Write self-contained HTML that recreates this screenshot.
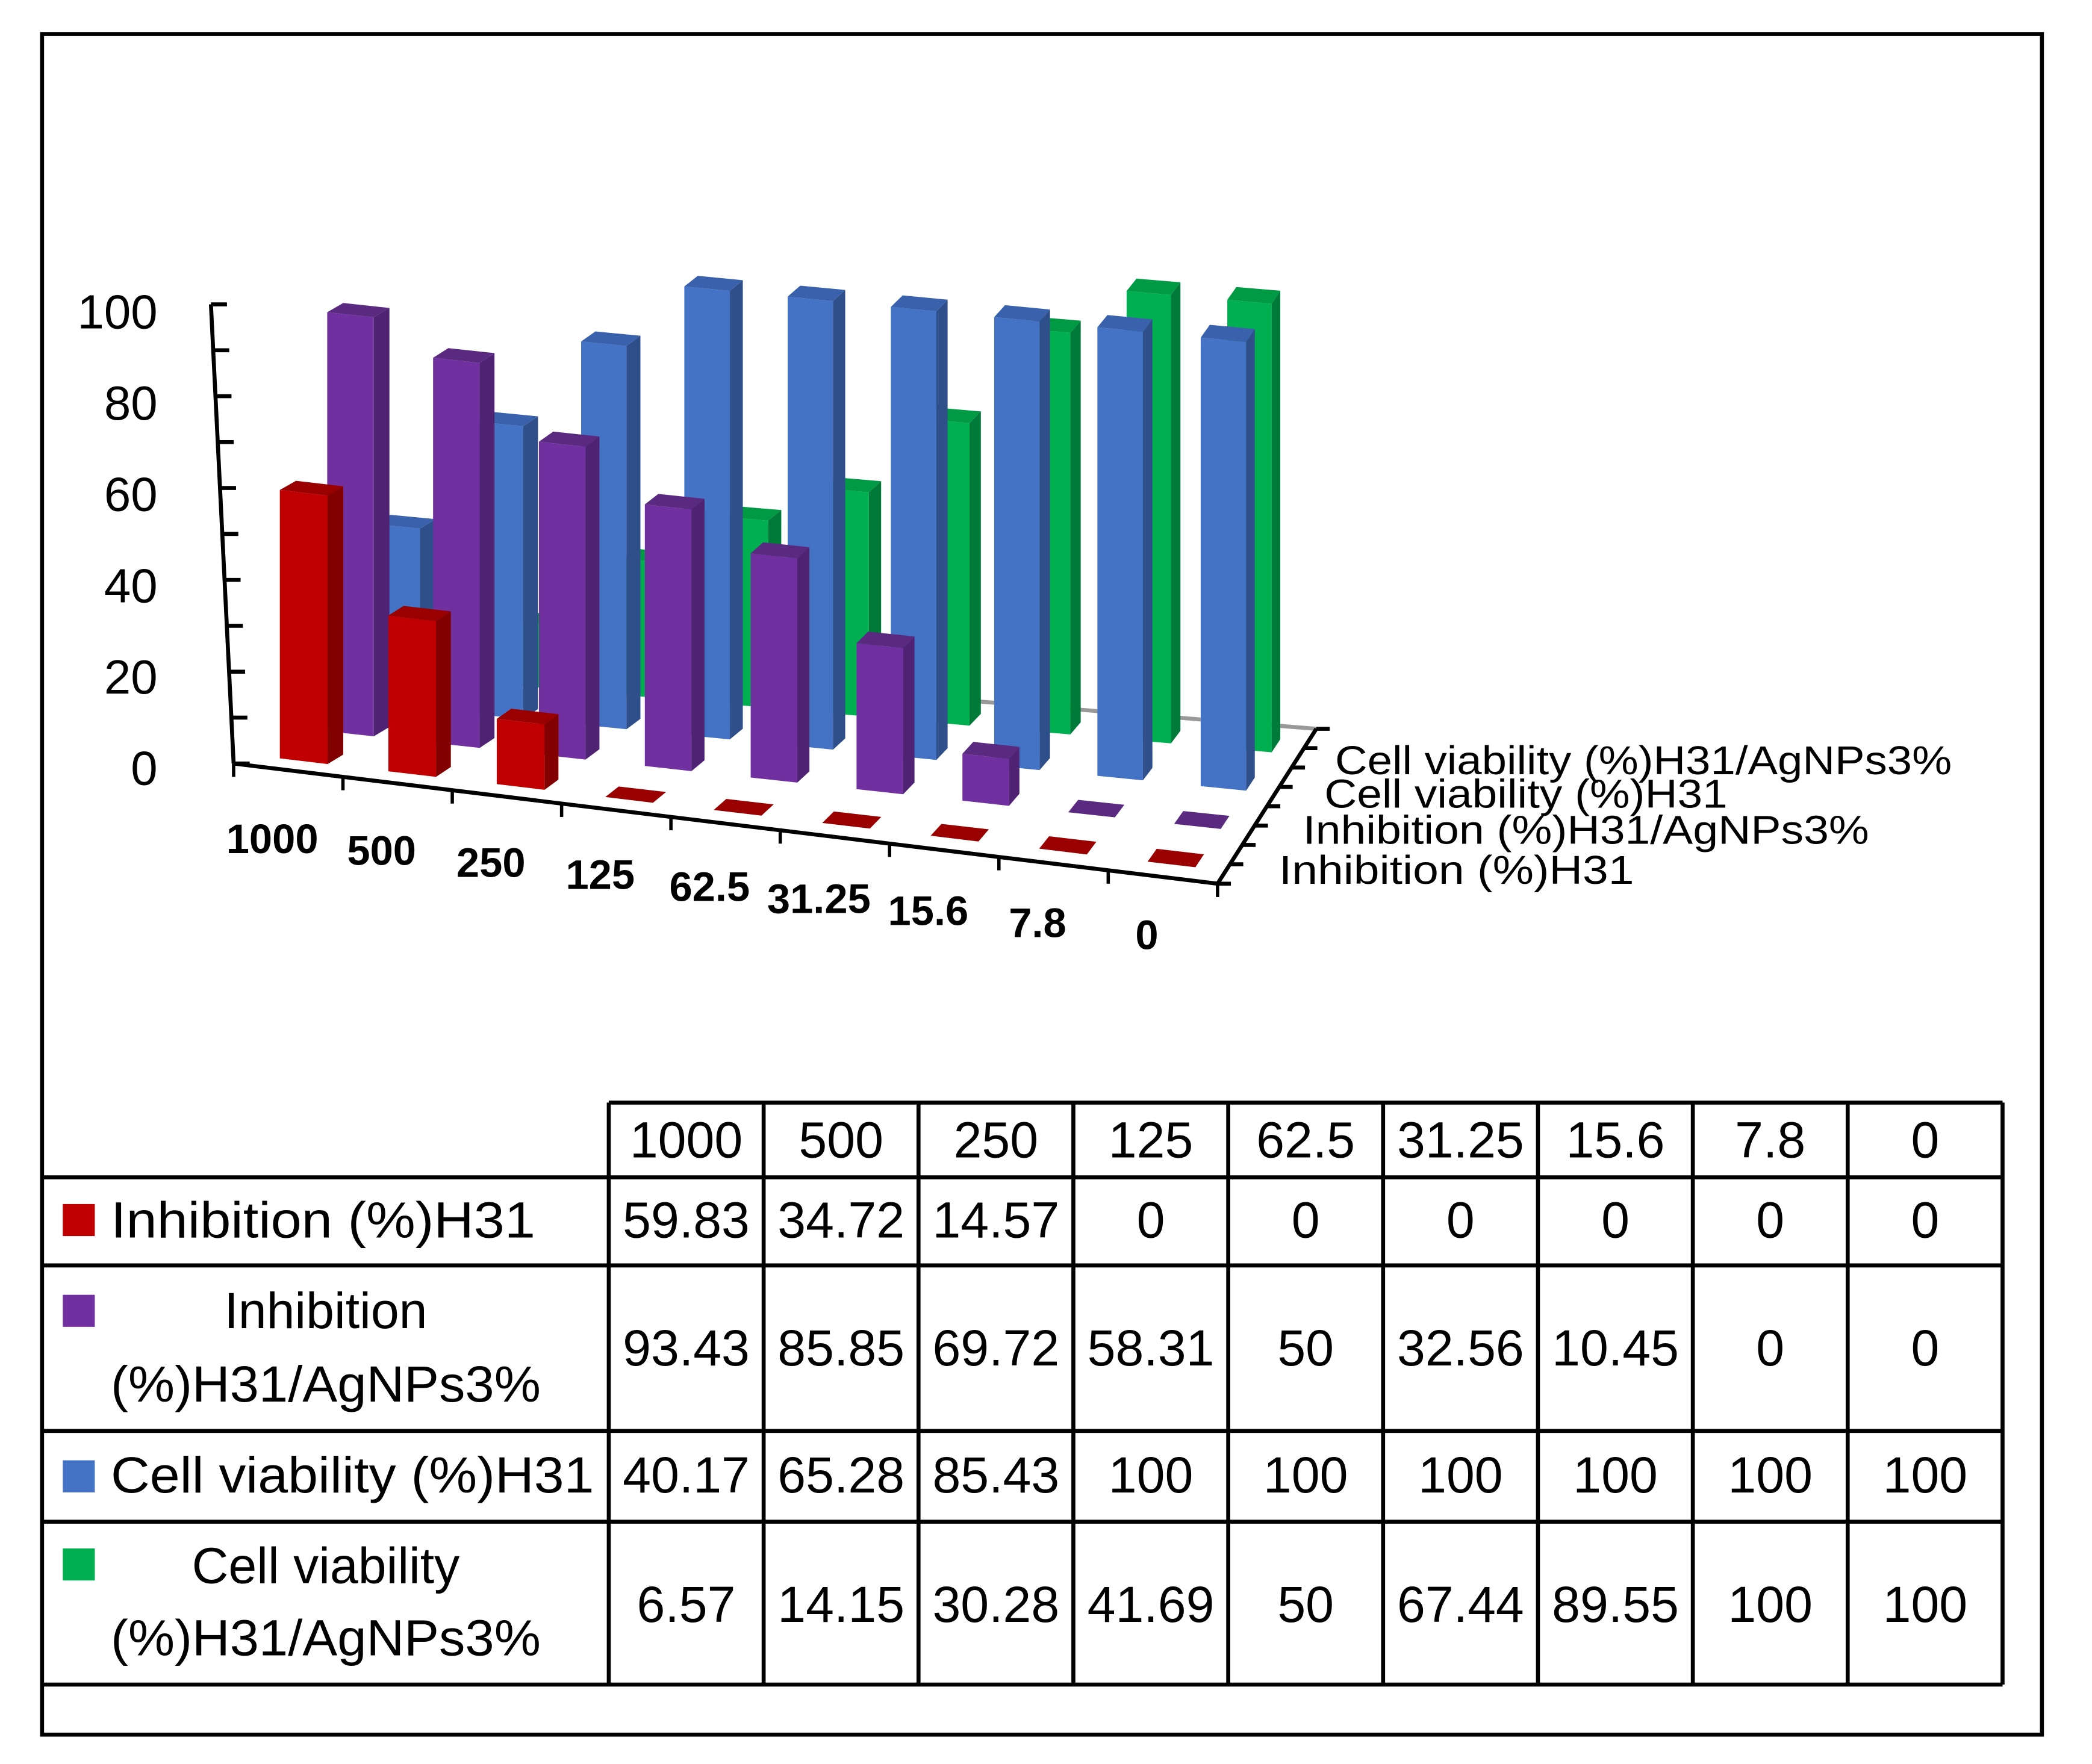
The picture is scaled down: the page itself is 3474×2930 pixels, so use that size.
<!DOCTYPE html>
<html><head><meta charset="utf-8"><style>
html,body{margin:0;padding:0;background:#fff}
svg{display:block}
text{font-family:"Liberation Sans",sans-serif;fill:#000}
</style></head><body>
<svg id="chart" width="3474" height="2930" viewBox="0 0 1567 1321.5" preserveAspectRatio="none" xmlns="http://www.w3.org/2000/svg">
<rect x="31.5" y="25.5" width="1498" height="1274" fill="#fff" stroke="#000" stroke-width="3"/>
<g id="axes"></g>
<g id="bars"></g>
<g id="labels"></g>
<g id="table"></g>
</svg>
<script>
const categories = ["1000","500","250","125","62.5","31.25","15.6","7.8","0"];
const seriesNames = ["Inhibition (%)H31","Inhibition (%)H31/AgNPs3%","Cell viability (%)H31","Cell viability (%)H31/AgNPs3%"];
const inhibitionH31 = [59.83,34.72,14.57,0,0,0,0,0,0];
const inhibitionAg = [93.43,85.85,69.72,58.31,50,32.56,10.45,0,0];
const viabilityH31 = [40.17,65.28,85.43,100,100,100,100,100,100];
const viabilityAg = [6.57,14.15,30.28,41.69,50,67.44,89.55,100,100];
const yTicks = [0,20,40,60,80,100];

const series = [inhibitionH31, inhibitionAg, viabilityH31, viabilityAg];
const colors = [
  {f:"#c00000", s:"#820000", t:"#9a0000"},
  {f:"#7030a0", s:"#4f2274", t:"#5a2a80"},
  {f:"#4472c4", s:"#2f4f8a", t:"#3a62ac"},
  {f:"#00b050", s:"#007a38", t:"#009a44"}
];
const NS = "http://www.w3.org/2000/svg";
const FL=[175,572], FR=[912,662], BL=[319,492], BR=[986,546];
const VS = 3.36;
function P(i,j,v){
  const t=j/4, s=i/9;
  const lx=FL[0]+t*(BL[0]-FL[0]), ly=FL[1]+t*(BL[1]-FL[1]);
  const rx=FR[0]+t*(BR[0]-FR[0]), ry=FR[1]+t*(BR[1]-FR[1]);
  return [lx+s*(rx-lx), ly+s*(ry-ly)-v*VS];
}
function poly(parent, pts, fill, name){
  const p=document.createElementNS(NS,"polygon");
  p.setAttribute("points", pts.map(q=>q[0].toFixed(1)+","+q[1].toFixed(1)).join(" "));
  p.setAttribute("fill", fill);
  
  
  parent.appendChild(p);
  return p;
}
function line(parent,x1,y1,x2,y2,stroke,w,name){
  const l=document.createElementNS(NS,"line");
  l.setAttribute("x1",x1);l.setAttribute("y1",y1);l.setAttribute("x2",x2);l.setAttribute("y2",y2);
  l.setAttribute("stroke",stroke);l.setAttribute("stroke-width",w);
  
  
  parent.appendChild(l);
}
function text(parent,x,y,str,size,anchor,weight,name,tl){
  const t=document.createElementNS(NS,"text");
  t.setAttribute("x",x);t.setAttribute("y",y);
  t.setAttribute("font-size",size);
  t.setAttribute("text-anchor",anchor||"start");
  if(weight) t.setAttribute("font-weight",weight);
  if(tl){t.setAttribute("textLength",tl);t.setAttribute("lengthAdjust","spacingAndGlyphs");}
  t.textContent=str;
  
  
  parent.appendChild(t);
}
const ax=document.getElementById("axes");
line(ax,BL[0],BL[1],BR[0],BR[1],"#999",3,"floor-back-edge");
line(ax,158,228,175,572,"#000",3,"y-axis-line");
for(let v=0;v<=100;v+=10){
  const f=(100-v)/100; const x=158+17*f, y=228+344*f;
  line(ax,x,y,x+12,y,"#000",3,"y-axis-tick");
}
line(ax,FL[0],FL[1],FR[0],FR[1],"#000",3,"x-axis-line");
for(let i=0;i<=9;i++){const p=P(i,0,0); line(ax,p[0],p[1],p[0],p[1]+10,"#000",2.5,"x-axis-tick");}
line(ax,FR[0],FR[1],BR[0],BR[1],"#000",3,"depth-axis-line");
for(let k=0;k<=8;k++){const p=P(9,k/2,0); line(ax,p[0],p[1],p[0]+10,p[1],"#000",3,"depth-axis-tick");}
const bg=document.getElementById("bars");
for(let j=3;j>=0;j--){
  for(let i=0;i<categories.length;i++){
    const v=series[j][i];
    const g=document.createElementNS(NS,"g");
    
    
    bg.appendChild(g);
    const i0=i+0.28,i1=i+0.72,j0=j+0.33,j1=j+0.67;
    const c=colors[j];
    if(v>0){
      poly(g,[P(i0,j0,0),P(i1,j0,0),P(i1,j0,v),P(i0,j0,v)],c.f,"bar-front");
      poly(g,[P(i1,j0,0),P(i1,j1,0),P(i1,j1,v),P(i1,j0,v)],c.s,"bar-side");
      poly(g,[P(i0,j0,v),P(i1,j0,v),P(i1,j1,v),P(i0,j1,v)],c.t,"bar-top");
    } else {
      poly(g,[P(i0,j0,0),P(i1,j0,0),P(i1,j1,0),P(i0,j1,0)],c.t,"bar-zero-top");
    }
  }
}
const lg=document.getElementById("labels");
yTicks.forEach(v=>{const f=(100-v)/100; text(lg,118,246+342*f,String(v),36,"end",null,"y-tick-label");});
categories.forEach((c,i)=>{const p=P(i+0.5,0,0); text(lg,p[0]-12,p[1]+62-i*1,c,31,"middle","bold","x-tick-label");});
const depthLab=[[958,662,266],[976,632,424],[992,605,302],[1000,580,462]];
seriesNames.forEach((n,j)=>{text(lg,depthLab[j][0],depthLab[j][1],n,30,"start",null,"series-depth-label",depthLab[j][2]);});
const tb=document.getElementById("table");
const colX=[456,572,688,804,920,1036,1152,1268,1384,1500];
const rowY=[826,882,948,1072,1140,1262];
line(tb,456,826,1500,826,"#000",3,"table-top-border");
for(let r=1;r<rowY.length;r++) line(tb,32,rowY[r],1500,rowY[r],"#000",3,"table-row-border");
colX.forEach(x=>line(tb,x,826,x,1262,"#000",3,"table-col-border"));
categories.forEach((c,i)=>text(tb,(colX[i]+colX[i+1])/2,867,c,38,"middle",null,"table-header-cell"));
const numBase=[927,1023,1118,1215];
series.forEach((s,j)=>{
  s.forEach((v,i)=>text(tb,(colX[i]+colX[i+1])/2,numBase[j],String(v),38,"middle",null,"table-value-cell"));
  const sq=document.createElementNS(NS,"rect");
  const sy=[902,970,1094,1160][j];
  sq.setAttribute("x",47);sq.setAttribute("y",sy);sq.setAttribute("width",24);sq.setAttribute("height",24);
  sq.setAttribute("fill",colors[j].f);
  
  
  tb.appendChild(sq);
});
text(tb,83,927,seriesNames[0],38,"start",null,"row-label",318);
text(tb,244,995,"Inhibition",38,"middle",null,"row-label");
text(tb,83,1050,"(%)H31/AgNPs3%",38,"start",null,"row-label",322);
text(tb,83,1118,seriesNames[2],38,"start",null,"row-label",362);
text(tb,244,1186,"Cell viability",38,"middle",null,"row-label");
text(tb,83,1240,"(%)H31/AgNPs3%",38,"start",null,"row-label",322);
</script>
</body></html>
